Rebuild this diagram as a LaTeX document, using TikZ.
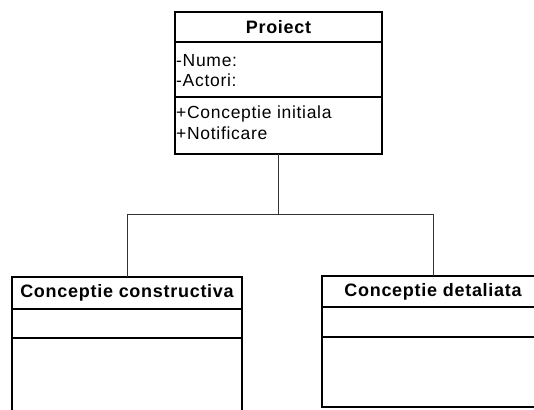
\documentclass[tikz,border=0pt]{standalone}
\usepackage{fontspec}
\setmainfont{Liberation Sans}
\newfontfamily\umlfont[LetterSpace=4]{Liberation Sans}

\tikzset{
    box/.style={draw, line width=2.2pt, inner sep=0pt, outer sep=0pt, anchor=north west},
    cls/.style={font=\umlfont\bfseries\fontsize{18}{20}\selectfont},
    member/.style={anchor=base west, inner sep=0pt, font=\umlfont\fontsize{17.5}{20}\selectfont},
    link/.style={draw=black!80, line width=0.9pt},
}

\begin{document}
\begin{tikzpicture}[x=1pt,y=-1pt]
            \useasboundingbox (0,0) rectangle (534,409);

            % parent class
            \node[box, cls, minimum width=207pt, minimum height=30pt] (proiect) at (175,12) {Proiect};
            \node[box, minimum width=207pt, minimum height=55pt] (proiectAttr) at (175,42) {};
            \node[box, minimum width=207pt, minimum height=57pt] (proiectOps) at (175,97) {};
            \node[member] (nume) at (176,66.7) {-Nume:};
            \node[member] (actori) at (176,86.7) {-Actori:};
            \node[member] (initiala) at (176,118) {+Conceptie initiala};
            \node[member] (notificare) at (176,139) {+Notificare};

            % the two sub classes
            \node[box, cls, minimum width=230pt, minimum height=32pt] (constructiva) at (12,277) {Conceptie constructiva};
            \node[box, minimum width=230pt, minimum height=29pt] (constructivaAttr) at (12,309) {};
            \node[box, minimum width=230pt, minimum height=100pt] (constructivaOps) at (12,338) {};

            \node[box, cls, minimum width=222pt, minimum height=31pt] (detaliata) at (322,276) {Conceptie detaliata};
            \node[box, minimum width=222pt, minimum height=30pt] (detaliataAttr) at (322,307) {};
            \node[box, minimum width=222pt, minimum height=70pt] (detaliataOps) at (322,337) {};

            % tree connector
            \coordinate (split) at (278.5,214);
            \draw[link] (proiectOps.south) -- (split);
            \draw[link] (split) -| (constructiva.north);
            \draw[link] (split) -| (detaliata.north);
        \end{tikzpicture}
\end{document}
